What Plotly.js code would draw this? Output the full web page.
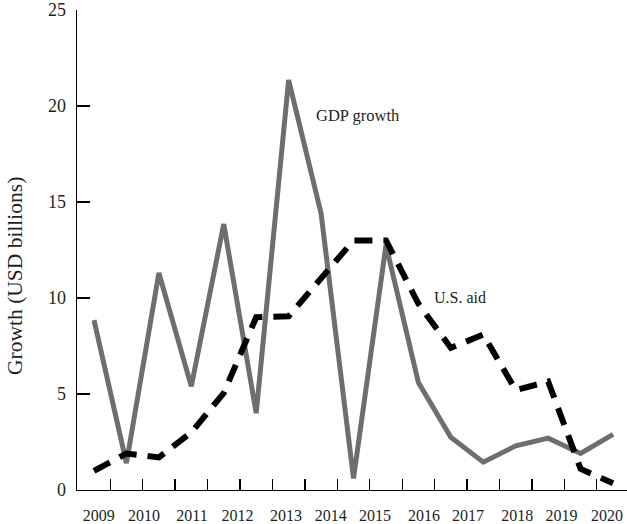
<!DOCTYPE html>
<html>
<head>
<meta charset="utf-8">
<script src="https://cdn.plot.ly/plotly-3.0.1.min.js"></script>
<style>html,body{margin:0;padding:0;background:#fff;}#chart{width:627px;height:524px;}</style>
</head>
<body>
<div id="chart"></div>
<script>
// ---- data ----
const periods = [0,1,2,3,4,5,6,7,8,9,10,11,12,13,14,15,16];
const gdpGrowth = [8.85, 1.4, 11.3, 5.4, 13.85, 4.0, 21.35, 14.4, 0.6, 12.75, 5.6, 2.75, 1.45, 2.3, 2.7, 1.9, 2.9];
const usAid     = [1.0, 1.9, 1.7, 3.0, 5.05, 9.0, 9.05, 11.0, 13.0, 13.0, 9.7, 7.4, 8.1, 5.2, 5.65, 1.1, 0.35];
const yearLabels = ["2009","2010","2011","2012","2013","2014","2015","2016","2017","2018","2019","2020"];
const yearLabelPos = [0.15, 1.54, 3.02, 4.42, 5.92, 7.30, 8.66, 10.17, 11.53, 13.05, 14.41, 15.81];
const boundaryTicks = [0.5,1.5,2.5,3.5,4.5,5.5,6.5,7.5,8.5,9.5,10.5,11.5,12.5,13.5,14.5,15.5];

const FONT = "Liberation Serif, Times New Roman, serif";
const TXT = "#231f20";
const xRange = [-0.524, 16.43];

const traces = [
  {x: periods, y: gdpGrowth, type: "scatter", mode: "lines", name: "GDP growth",
   line: {color: "#6d6e71", width: 5, shape: "linear"}, hoverinfo: "skip"},
  {x: periods, y: usAid, type: "scatter", mode: "lines", name: "U.S. aid",
   line: {color: "#000000", width: 6, dash: "18px,11px"}, hoverinfo: "skip"},
  {x: boundaryTicks, y: boundaryTicks.map(() => null), xaxis: "x2", type: "scatter", mode: "lines",
   showlegend: false, hoverinfo: "skip"}
];

const layout = {
  width: 627, height: 524,
  margin: {l: 77, r: 0, t: 10, b: 34, pad: 0},
  paper_bgcolor: "#ffffff", plot_bgcolor: "#ffffff",
  showlegend: false,
  font: {family: FONT, color: TXT},
  xaxis: {
    range: xRange, showgrid: false, zeroline: false,
    showline: true, linecolor: "#000", linewidth: 1.3,
    tickmode: "array", tickvals: yearLabelPos, ticktext: yearLabels,
    ticks: "", ticklabelstandoff: 10,
    tickfont: {family: FONT, size: 16, color: TXT}
  },
  xaxis2: {
    overlaying: "x", anchor: "y", side: "bottom", matches: "x",
    range: xRange, showgrid: false, zeroline: false, showline: false,
    tickmode: "array", tickvals: boundaryTicks, showticklabels: false,
    ticks: "inside", ticklen: 11, tickwidth: 1.3, tickcolor: "#000"
  },
  yaxis: {
    range: [0, 25], showgrid: false, zeroline: false,
    showline: true, linecolor: "#000", linewidth: 1.3,
    tickmode: "array", tickvals: [0, 5, 10, 15, 20, 25],
    ticks: "inside", ticklen: 13, tickwidth: 1.3, tickcolor: "#000",
    ticklabelstandoff: 6,
    tickfont: {family: FONT, size: 18, color: TXT}
  },
  annotations: [
    {text: "Growth (USD billions)", xref: "paper", yref: "paper", x: -0.1127, y: 0.446,
     xanchor: "center", yanchor: "middle", textangle: -90, showarrow: false,
     font: {family: FONT, size: 21.5, color: TXT}},
    {text: "GDP growth", xref: "x", yref: "y", x: 6.78, y: 19.53, xanchor: "left", yanchor: "middle",
     showarrow: false, font: {family: FONT, size: 16.5, color: TXT}},
    {text: "U.S. aid", xref: "x", yref: "y", x: 10.42, y: 10.05, xanchor: "left", yanchor: "middle",
     showarrow: false, font: {family: FONT, size: 16, color: TXT}}
  ]
};

Plotly.newPlot("chart", traces, layout, {staticPlot: true, displayModeBar: false});
</script>
</body>
</html>
